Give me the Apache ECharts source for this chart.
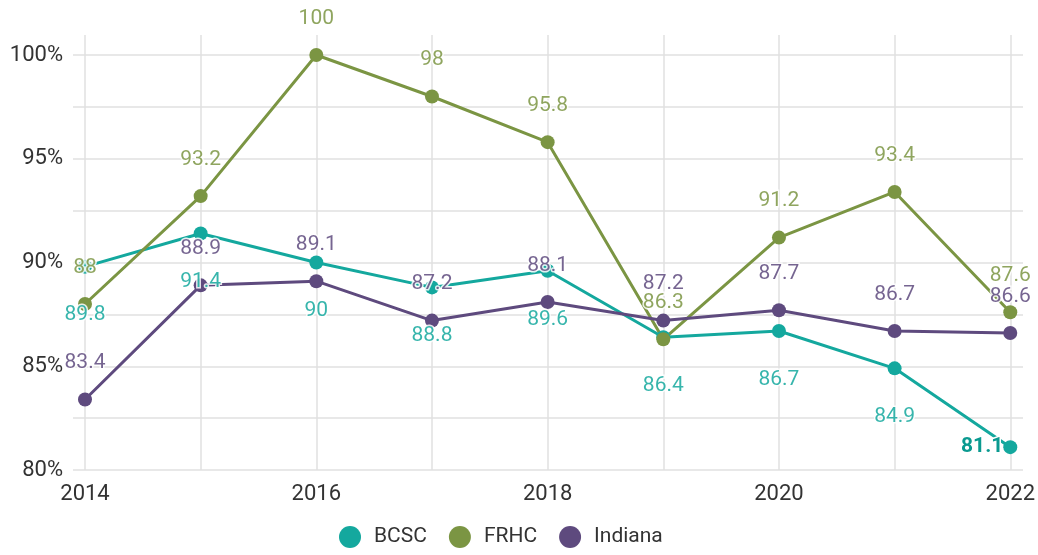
<!DOCTYPE html>
<html>
<head>
<meta charset="utf-8">
<script src="https://cdn.jsdelivr.net/npm/echarts@6/dist/echarts.min.js"></script>
<style>
  html, body { margin: 0; padding: 0; background: #fff; }
  #chart { width: 1038px; height: 555px; }
</style>
</head>
<body>
<div id="chart"></div>
<script>
// 年份
var years = ["2014", "2015", "2016", "2017", "2018", "2019", "2020", "2021", "2022"];
var bcsc = [89.8, 91.4, 90, 88.8, 89.6, 86.4, 86.7, 84.9, 81.1];
var frhc = [88, 93.2, 100, 98, 95.8, 86.3, 91.2, 93.4, 87.6];
var indiana = [83.4, 88.9, 89.1, 87.2, 88.1, 87.2, 87.7, 86.7, 86.6];

var font = "Roboto";
var colors = { bcsc: "#14a89e", frhc: "#7b9543", indiana: "#5e4a7e" };
var gridColor = "#e0e0e0";
// y 轴上方留一点空，让竖线伸出 100% 之上
var yMin = 80, yMax = 100.964;

function labelStyle(color, pos, dist) {
  return {
    show: true,
    position: pos,
    distance: dist,
    color: color,
    opacity: 0.85,
    fontFamily: font,
    fontSize: 21,
    textBorderColor: "#fff",
    textBorderWidth: 3
  };
}

// 最后一个 BCSC 点单独标注（加粗、在左侧）
var bcscData = bcsc.map(function (v, i) {
  if (i === bcsc.length - 1) {
    return {
      value: v,
      label: { position: "left", distance: 0, fontWeight: "bold", color: "#0a9a90", opacity: 1 }
    };
  }
  return v;
});

function makeSeries(name, data, color, label) {
  return {
    name: name,
    type: "line",
    data: data,
    symbol: "circle",
    symbolSize: 14,
    lineStyle: { width: 3, color: color },
    itemStyle: { color: color },
    label: label,
    emphasis: { disabled: true }
  };
}

var chart = echarts.init(document.getElementById("chart"));
chart.setOption({
  animation: false,
  textStyle: { fontFamily: font },
  color: [colors.bcsc, colors.frhc, colors.indiana],
  legend: {
    bottom: 2,
    left: 334,
    icon: "circle",
    itemWidth: 38,
    itemHeight: 22,
    itemGap: 22,
    textStyle: { fontFamily: font, fontSize: 21, color: "#333" },
    data: ["BCSC", "FRHC", "Indiana"]
  },
  grid: [
    { left: 85, right: 26, top: 35, bottom: 85 },
    // 横向网格线稍微超出数据区
    { left: 73, right: 15, top: 35, bottom: 85 }
  ],
  xAxis: [
    {
      type: "category",
      gridIndex: 0,
      boundaryGap: false,
      data: years,
      axisLine: { show: false },
      axisTick: { show: false },
      axisLabel: { interval: 1, margin: 13, fontSize: 22, color: "#333", fontFamily: font },
      splitLine: { show: true, interval: 0, lineStyle: { color: gridColor, width: 1.5 } }
    },
    { type: "value", gridIndex: 1, show: false, splitLine: { show: false } }
  ],
  yAxis: [
    {
      type: "value",
      gridIndex: 0,
      min: yMin,
      max: yMax,
      interval: 2.5,
      axisLine: { show: false },
      axisTick: { show: false },
      axisLabel: {
        margin: 22,
        fontSize: 22,
        color: "#333",
        fontFamily: font,
        formatter: function (v) {
          return v % 5 === 0 ? v + "%" : "";
        }
      },
      splitLine: { show: false }
    },
    {
      type: "value",
      gridIndex: 1,
      min: yMin,
      max: yMax,
      interval: 2.5,
      axisLine: { show: false },
      axisTick: { show: false },
      axisLabel: { show: false },
      splitLine: { show: true, showMaxLine: false, lineStyle: { color: gridColor, width: 1.5 } }
    }
  ],
  series: [
    makeSeries("BCSC", bcscData, colors.bcsc, labelStyle(colors.bcsc, "bottom", 31)),
    makeSeries("FRHC", frhc, colors.frhc, labelStyle(colors.frhc, "top", 19)),
    makeSeries("Indiana", indiana, colors.indiana, labelStyle(colors.indiana, "top", 19))
  ]
});
</script>
</body>
</html>
